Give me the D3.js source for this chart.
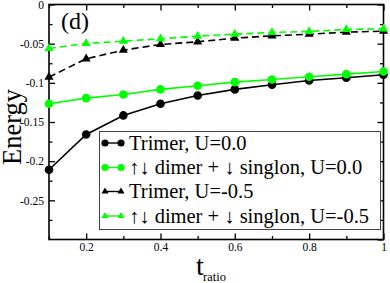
<!DOCTYPE html>
<html>
<head>
<meta charset="utf-8">
<script src="https://cdn.jsdelivr.net/npm/d3@7"></script>
<style>
  body { margin: 0; background: #fff; }
  svg text { font-family: "Liberation Serif", "Times New Roman", "DejaVu Serif", serif; }
</style>
</head>
<body>
<div id="graph"></div>
<script>
var width = 390;
var height = 283;

// data
var tRatio = [0.1, 0.2, 0.3, 0.4, 0.5, 0.6, 0.7, 0.8, 0.9, 1.0];
var trimerU0 = [-0.211, -0.166, -0.1416, -0.1267, -0.1162, -0.1084, -0.1024, -0.097, -0.0935, -0.0897];
var dimerU0 = [-0.1267, -0.1195, -0.1148, -0.1084, -0.1037, -0.0991, -0.0957, -0.0922, -0.0889, -0.0855];
var trimerU05 = [-0.0927, -0.0693, -0.0583, -0.051, -0.0476, -0.043, -0.040, -0.0379, -0.0353, -0.034];
var dimerU05 = [-0.0561, -0.0497, -0.0468, -0.0438, -0.0404, -0.0379, -0.0357, -0.0344, -0.0319, -0.031];

var seriesNames = ["Trimer, U=0.0", "\u2191\u2193 dimer + \u2193 singlon, U=0.0",
  "Trimer, U=-0.5", "\u2191\u2193 dimer + \u2193 singlon, U=-0.5"];
var seriesColors = ["#000000", "#00ff00", "#000000", "#00ff00"];
var seriesMarkers = ["circle", "circle", "triangle", "triangle"];
var seriesDashed = [false, false, true, true];
var seriesValues = [trimerU0, dimerU0, trimerU05, dimerU05];

var xMajor = [0.2, 0.4, 0.6, 0.8, 1.0];
var xMinor = [0.1, 0.3, 0.5, 0.7, 0.9];
var yMajor = [0, -0.05, -0.1, -0.15, -0.2, -0.25, -0.3];
var yMinor = [-0.025, -0.075, -0.125, -0.175, -0.225, -0.275];

var plotLeft = 49, plotRight = 383.5, plotTop = 4.5, plotBottom = 239.5;

var xScale = d3.scaleLinear().domain([0.1, 1]).range([plotLeft, plotRight]);
var yScale = d3.scaleLinear().domain([-0.3, 0]).range([plotBottom, plotTop]);

var fmt = function (d) { return String(+d.toFixed(3)); };

var chart = d3.select("#graph")
  .append("svg")
  .attr("width", width)
  .attr("height", height);

// axes, ticks inward on all four sides
function styleAxis(g) {
  g.attr("font-family", null);
  g.select(".domain").remove();
  g.selectAll(".tick line").attr("stroke", "#000").attr("stroke-width", 1.3);
  g.selectAll(".tick text").attr("fill", "#000").style("font-size", "11.5px");
}

chart.append("g")
  .attr("transform", "translate(0," + plotBottom + ")")
  .call(d3.axisBottom(xScale).tickValues(xMajor).tickSize(-6).tickPadding(3).tickFormat(fmt))
  .call(styleAxis);
chart.append("g")
  .attr("transform", "translate(0," + plotBottom + ")")
  .call(d3.axisBottom(xScale).tickValues(xMinor).tickSize(-3.5).tickFormat(""))
  .call(styleAxis);
chart.append("g")
  .attr("transform", "translate(0," + plotTop + ")")
  .call(d3.axisTop(xScale).tickValues(xMajor).tickSize(-6).tickFormat(""))
  .call(styleAxis);
chart.append("g")
  .attr("transform", "translate(0," + plotTop + ")")
  .call(d3.axisTop(xScale).tickValues(xMinor).tickSize(-3.5).tickFormat(""))
  .call(styleAxis);

chart.append("g")
  .attr("transform", "translate(" + plotLeft + ",0)")
  .call(d3.axisLeft(yScale).tickValues(yMajor.slice(0, 6)).tickSize(-6).tickPadding(5).tickFormat(fmt))
  .call(styleAxis);
chart.append("g")
  .attr("transform", "translate(" + plotLeft + ",0)")
  .call(d3.axisLeft(yScale).tickValues(yMinor).tickSize(-3.5).tickFormat(""))
  .call(styleAxis);
chart.append("g")
  .attr("transform", "translate(" + plotRight + ",0)")
  .call(d3.axisRight(yScale).tickValues(yMajor).tickSize(-6).tickFormat(""))
  .call(styleAxis);
chart.append("g")
  .attr("transform", "translate(" + plotRight + ",0)")
  .call(d3.axisRight(yScale).tickValues(yMinor).tickSize(-3.5).tickFormat(""))
  .call(styleAxis);

// frame
chart.append("rect")
  .attr("x", plotLeft).attr("y", plotTop)
  .attr("width", plotRight - plotLeft).attr("height", plotBottom - plotTop)
  .attr("fill", "none").attr("stroke", "#000").attr("stroke-width", 1.6);

// series
var line = d3.line()
  .x(function (d) { return xScale(d[0]); })
  .y(function (d) { return yScale(d[1]); });

var triangle = d3.symbol().type(d3.symbolTriangle).size(36);
var triangleSmall = d3.symbol().type(d3.symbolTriangle).size(22);

function drawMarker(g, kind, color, x, y, small) {
  if (kind == "circle") {
    g.append("circle").attr("cx", x).attr("cy", y)
      .attr("r", small ? 3.6 : 4.3).attr("fill", color);
  } else {
    g.append("path").attr("d", small ? triangleSmall() : triangle())
      .attr("transform", "translate(" + x + "," + y + ")")
      .attr("fill", color);
  }
}

seriesValues.forEach(function (vals, s) {
  var pts = tRatio.map(function (t, i) { return [t, vals[i]]; });
  var g = chart.append("g");
  g.append("path")
    .datum(pts)
    .attr("d", line)
    .attr("fill", "none")
    .attr("stroke", seriesColors[s])
    .attr("stroke-width", 1.6)
    .attr("stroke-dasharray", seriesDashed[s] ? "7,4" : null);
  pts.forEach(function (p) {
    drawMarker(g, seriesMarkers[s], seriesColors[s], xScale(p[0]), yScale(p[1]), false);
  });
});

// panel label
chart.append("text")
  .attr("x", 61).attr("y", 29)
  .style("font-size", "24px")
  .text("(d)");

// axis titles
chart.append("text")
  .attr("transform", "translate(21,127) rotate(-90)")
  .attr("text-anchor", "middle")
  .style("font-size", "26.5px")
  .text("Energy");

chart.append("text")
  .attr("x", 196).attr("y", 275)
  .style("font-size", "28px")
  .text("t");
chart.append("text")
  .attr("x", 203).attr("y", 281)
  .style("font-size", "12.5px")
  .text("ratio");

// legend
var legX = 99.5, legY = 131.5, legW = 281, legH = 98;
var legend = chart.append("g");
legend.append("rect")
  .attr("x", legX).attr("y", legY)
  .attr("width", legW).attr("height", legH)
  .attr("fill", "#fff").attr("stroke", "#444").attr("stroke-width", 1);

var rowY = [143, 167.5, 191.5, 216];
seriesNames.forEach(function (name, s) {
  var y = rowY[s];
  legend.append("line")
    .attr("x1", 105).attr("x2", 121).attr("y1", y).attr("y2", y)
    .attr("stroke", seriesColors[s]).attr("stroke-width", 1.4);
  drawMarker(legend, seriesMarkers[s], seriesColors[s], 105, y, true);
  drawMarker(legend, seriesMarkers[s], seriesColors[s], 121, y, true);
  legend.append("text")
    .attr("x", 129).attr("y", y + 6.5)
    .style("font-size", "20.5px")
    .attr("fill", "#000")
    .text(name);
});
</script>
</body>
</html>
